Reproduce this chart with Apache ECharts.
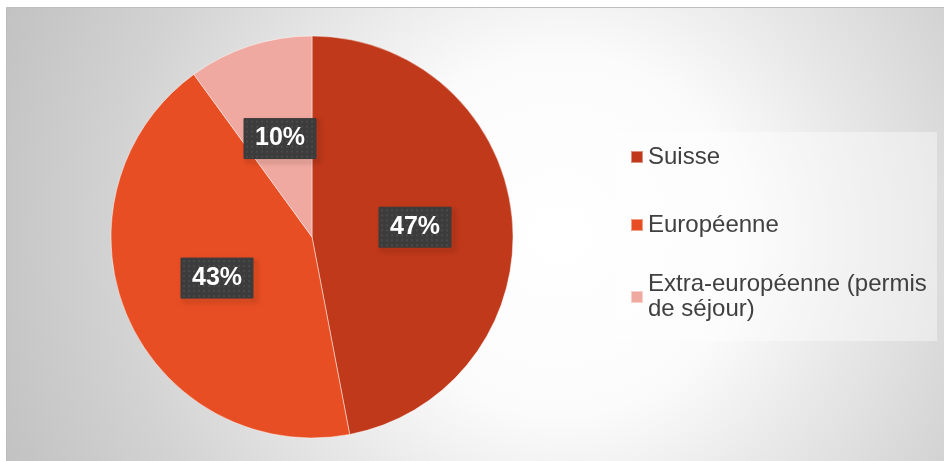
<!DOCTYPE html>
<html>
<head>
<meta charset="utf-8">
<script src="https://cdn.jsdelivr.net/npm/echarts@6/dist/echarts.min.js"></script>
<style>
html,body{margin:0;padding:0;background:#fff;}
#chart{width:944px;height:461px;}
</style>
</head>
<body>
<div id="chart"></div>
<script>
const categories = ['Suisse', 'Européenne', 'Extra-européenne (permis\nde séjour)'];
const values = [47, 43, 10];
const colors = ['#C0391B', '#E84E23', '#F0A9A0'];

function makePattern(w, h) {
  const c = document.createElement('canvas');
  c.width = w; c.height = h;
  const g = c.getContext('2d');
  g.fillStyle = '#3c3c3c';
  g.fillRect(0, 0, w, h);
  g.fillStyle = '#4a4a4a';
  for (let y = 2; y < h; y += 5) {
    for (let x = 2; x < w; x += 5) {
      g.fillRect(x, y, 2, 2);
    }
  }
  return c;
}
const pattern = makePattern(72, 40);

const chart = echarts.init(document.getElementById('chart'), null, {renderer: 'canvas'});

const legendData = categories.map(function (name, i) {
  const last = i === categories.length - 1;
  return {
    name: name,
    textStyle: { padding: last ? [25, 0, 0, 0] : [21, 0, 21, 0] }
  };
});

const option = {
  animation: false,
  backgroundColor: '#ffffff',
  color: colors,
  graphic: [
    {
      type: 'rect',
      z: -10,
      silent: true,
      shape: { x: 6.5, y: 7.5, width: 945, height: 460 },
      style: {
        fill: {
          type: 'radial', x: 560, y: 235, r: 600, global: true,
          colorStops: [
            { offset: 0, color: '#ffffff' },
            { offset: 0.3, color: '#fbfbfb' },
            { offset: 0.5, color: '#e8e8e8' },
            { offset: 0.75, color: '#d2d2d2' },
            { offset: 0.95, color: '#c5c5c5' },
            { offset: 1, color: '#c2c2c2' }
          ]
        },
        stroke: '#bdbdbd',
        lineWidth: 1
      }
    },
    {
      type: 'rect',
      z: -5,
      silent: true,
      shape: { x: 617, y: 132, width: 320, height: 209 },
      style: { fill: 'rgba(255,255,255,0.4)' }
    }
  ],
  legend: {
    orient: 'vertical',
    left: 630,
    top: 123.5,
    padding: 0,
    itemGap: 1,
    itemWidth: 12,
    itemHeight: 12,
    icon: 'rect',
    selectedMode: false,
    textStyle: {
      fontFamily: 'Liberation Sans, Arial, sans-serif',
      fontSize: 24,
      lineHeight: 25,
      color: '#404040'
    },
    data: legendData
  },
  series: [
    {
      type: 'pie',
      center: [312, 237],
      radius: 201,
      startAngle: 90,
      clockwise: true,
      silent: true,
      itemStyle: {
        borderColor: 'rgba(255,255,255,0.45)',
        borderWidth: 1
      },
      label: {
        show: true,
        position: 'inside',
        formatter: '{c}%',
        fontFamily: 'Liberation Sans, Arial, sans-serif',
        fontWeight: 'bold',
        fontSize: 25,
        color: '#ffffff',
        width: 52,
        height: 24,
        lineHeight: 24,
        align: 'center',
        padding: [8, 10],
        backgroundColor: { image: pattern },
        borderColor: '#3c3c3c',
        borderWidth: 1,
        shadowColor: 'rgba(0,0,0,0.5)',
        shadowBlur: 5,
        shadowOffsetX: 3,
        shadowOffsetY: 3
      },
      labelLine: { show: false },
      data: categories.map(function (n, i) { return { name: n, value: values[i] }; })
    }
  ]
};
chart.setOption(option);
</script>
</body>
</html>
